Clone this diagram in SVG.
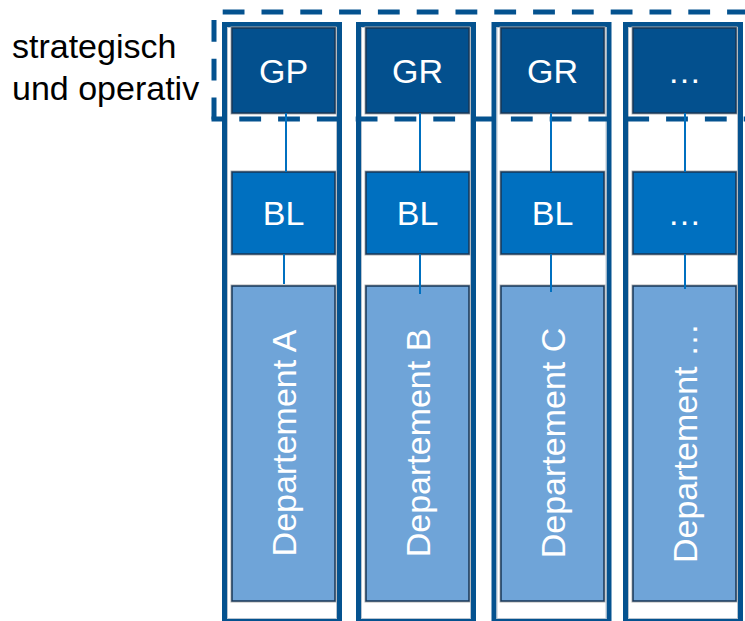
<svg xmlns="http://www.w3.org/2000/svg" width="745" height="621" viewBox="0 0 745 621">
  <style>
    .frame{fill:none;stroke:#04528F;stroke-width:5}
    .frameIn{fill:none;stroke:#B8C4D0;stroke-width:1}
    .dash{fill:none;stroke:#04528F;stroke-width:5;stroke-dasharray:21.8 17}
    .box{stroke:#173656;stroke-width:1.5}
    .halo{fill:none;stroke:#B0B0B0;stroke-width:1}
    .top{fill:#03508E}
    .mid{fill:#0070C0}
    .dep{fill:#6FA4D8}
    .t{font-family:"Liberation Sans",Arial,sans-serif;font-size:34px;fill:#FFFFFF;text-anchor:middle}
    .lbl{font-family:"Liberation Sans",Arial,sans-serif;font-size:34px;fill:#000000}
    .conn{stroke:#0070C0;stroke-width:2;fill:none}
  </style>
  <rect width="745" height="621" fill="#FFFFFF"/>

  <g id="label">
    <text class="lbl" x="12" y="58">strategisch</text>
    <text class="lbl" x="12" y="100">und operativ</text>
  </g>

  <g id="col1">
    <rect class="frame" x="224.5" y="24.5" width="115" height="597"/>
    <rect class="frameIn" x="227.5" y="27.5" width="109" height="591"/>
    <g id="gp">
      <rect class="halo" x="231" y="27" width="105" height="87"/>
      <rect class="box top" x="232" y="28" width="103" height="85"/>
      <text class="t" x="283.5" y="83">GP</text>
    </g>
    <g id="bl1">
      <rect class="halo" x="231" y="171" width="105" height="84"/>
      <rect class="box mid" x="232" y="172" width="103" height="82"/>
      <text class="t" x="283.5" y="225">BL</text>
    </g>
    <g id="depA">
      <rect class="halo" x="231" y="285" width="105" height="317"/>
      <rect class="box dep" x="232" y="286" width="103" height="315"/>
      <text class="t" transform="translate(296,443) rotate(-90)">Departement A</text>
    </g>
  </g>

  <g id="col2">
    <rect class="frame" x="358.5" y="24.5" width="115" height="597"/>
    <rect class="frameIn" x="361.5" y="27.5" width="109" height="591"/>
    <g id="gr2">
      <rect class="halo" x="365" y="27" width="105" height="87"/>
      <rect class="box top" x="366" y="28" width="103" height="85"/>
      <text class="t" x="417.5" y="83">GR</text>
    </g>
    <g id="bl2">
      <rect class="halo" x="365" y="171" width="105" height="84"/>
      <rect class="box mid" x="366" y="172" width="103" height="82"/>
      <text class="t" x="417.5" y="225">BL</text>
    </g>
    <g id="depB">
      <rect class="halo" x="365" y="285" width="105" height="317"/>
      <rect class="box dep" x="366" y="286" width="103" height="315"/>
      <text class="t" transform="translate(430,443) rotate(-90)">Departement B</text>
    </g>
  </g>

  <g id="col3">
    <rect class="frame" x="494" y="24.5" width="115" height="597"/>
    <rect class="frameIn" x="497" y="27.5" width="109" height="591"/>
    <g id="gr3">
      <rect class="halo" x="500" y="27" width="105" height="87"/>
      <rect class="box top" x="501" y="28" width="103" height="85"/>
      <text class="t" x="552.5" y="83">GR</text>
    </g>
    <g id="bl3">
      <rect class="halo" x="500" y="171" width="105" height="84"/>
      <rect class="box mid" x="501" y="172" width="103" height="82"/>
      <text class="t" x="552.5" y="225">BL</text>
    </g>
    <g id="depC">
      <rect class="halo" x="500" y="285" width="105" height="317"/>
      <rect class="box dep" x="501" y="286" width="103" height="315"/>
      <text class="t" transform="translate(565,443) rotate(-90)">Departement C</text>
    </g>
  </g>

  <g id="col4">
    <rect class="frame" x="625.5" y="24.5" width="115" height="597"/>
    <rect class="frameIn" x="628.5" y="27.5" width="109" height="591"/>
    <g id="top4">
      <rect class="halo" x="632" y="27" width="105" height="87"/>
      <rect class="box top" x="633" y="28" width="103" height="85"/>
      <text class="t" x="684.5" y="83">…</text>
    </g>
    <g id="bl4">
      <rect class="halo" x="632" y="171" width="105" height="84"/>
      <rect class="box mid" x="633" y="172" width="103" height="82"/>
      <text class="t" x="684.5" y="225">…</text>
    </g>
    <g id="dep4">
      <rect class="halo" x="632" y="285" width="105" height="317"/>
      <rect class="box dep" x="633" y="286" width="103" height="315"/>
      <text class="t" transform="translate(697,443) rotate(-90)">Departement …</text>
    </g>
  </g>

  <g id="scope">
    <line class="dash" x1="222.7" y1="12" x2="760" y2="12"/>
    <line class="dash" x1="214" y1="20" x2="214" y2="121.5"/>
    <line class="dash" x1="211.5" y1="119" x2="760" y2="119" stroke-dashoffset="11"/>
  </g>

  <g id="connectors">
    <line class="conn" x1="286" y1="113" x2="286" y2="172"/>
    <line class="conn" x1="284" y1="254" x2="284" y2="284"/>
    <line class="conn" x1="420" y1="113" x2="420" y2="172"/>
    <line class="conn" x1="420" y1="254" x2="420" y2="294"/>
    <line class="conn" x1="551" y1="113" x2="551" y2="172"/>
    <line class="conn" x1="551" y1="254" x2="551" y2="292"/>
    <line class="conn" x1="685" y1="113" x2="685" y2="172"/>
    <line class="conn" x1="685" y1="254" x2="685" y2="289"/>
  </g>
</svg>
